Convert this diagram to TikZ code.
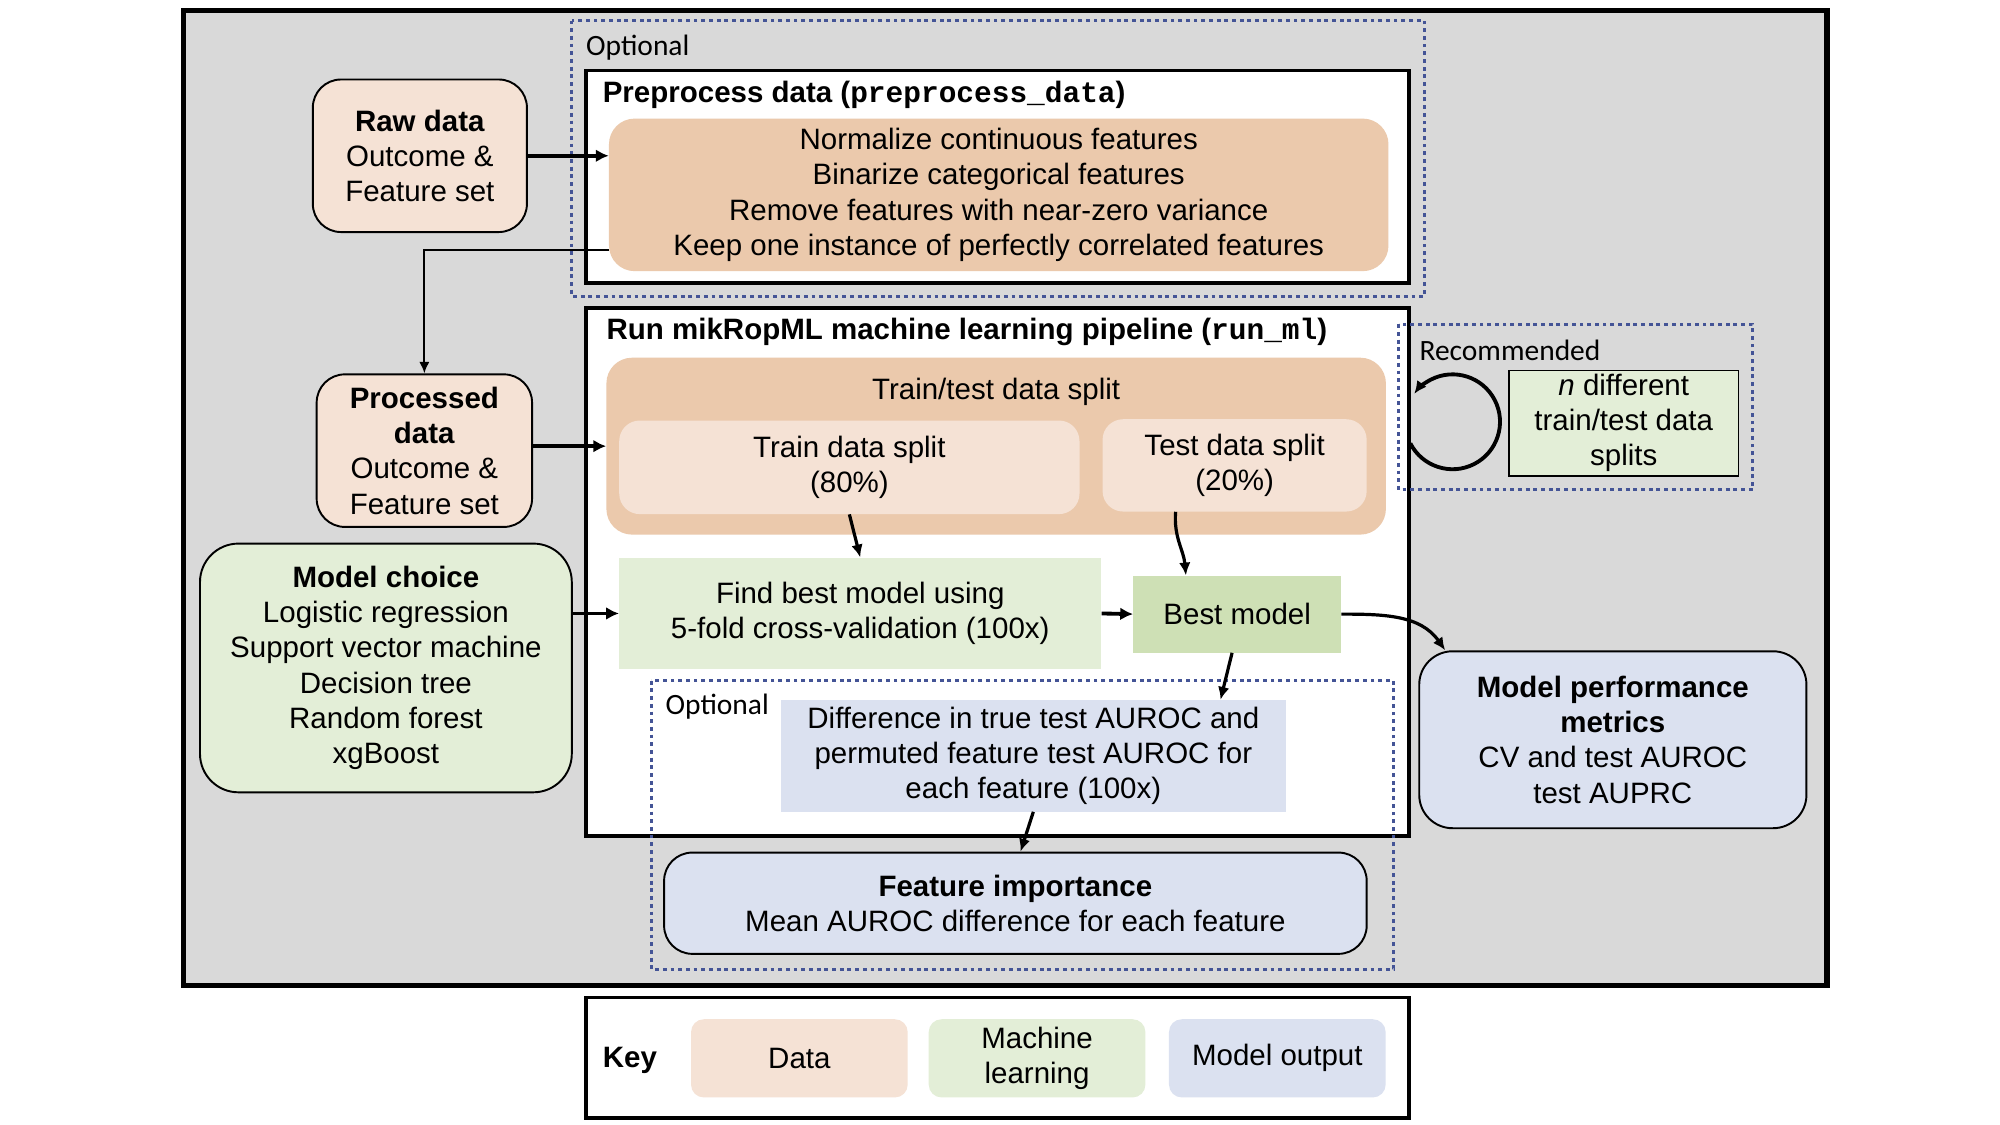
\documentclass[tikz,border=0pt]{standalone}
\usepackage{fontspec}
\setmainfont{Liberation Sans}
\setmonofont{Liberation Mono}
\newfontfamily\calibri{Carlito}
\usepackage{tikz}
\usetikzlibrary{positioning,arrows.meta}
\definecolor{bggray}{RGB}{217,217,217}
\definecolor{dataorange}{RGB}{235,201,172}
\definecolor{datalight}{RGB}{245,226,213}
\definecolor{mllight}{RGB}{227,238,215}
\definecolor{mldark}{RGB}{206,224,181}
\definecolor{outblue}{RGB}{219,225,240}
\definecolor{optblue}{RGB}{68,84,150}

\begin{document}
\begin{tikzpicture}[x=1pt, y=1pt,
    every node/.style={font=\fontsize{23}{27.5}\selectfont, align=center, inner sep=0pt},
    panel/.style={draw, line width=3pt, fill=white},
    optbox/.style={draw=optblue, line width=2.5pt, dash pattern=on 3pt off 3pt},
    optlabel/.style={font=\calibri\fontsize{23}{27}\selectfont, anchor=west},
    heading/.style={font=\bfseries\fontsize{23}{27.5}\selectfont, anchor=west},
    roundbox/.style={draw, line width=1.5pt, rounded corners=22pt},
    plainbox/.style={rounded corners=16pt},
    arr/.style={-{Latex[length=10pt,width=9pt]}, line width=2.5pt},
    bigarr/.style={-{Latex[length=10pt,width=10pt]}, line width=3pt}]
  \useasboundingbox (0,0) rectangle (1560,-877.5);
  \draw[line width=4pt, fill=bggray] (143,-8) rectangle (1425,-769);

  \draw[optbox] (446,-16) rectangle (1111,-231);
  \node[optlabel] (opt1) at (457,-37) {Optional};
  \node[panel, minimum width=642pt, minimum height=166pt] (prep) at (778,-138) {};
  \node[heading] (preptitle) at (470,-74) {Preprocess data (\texttt{preprocess\_data})};
  \node[plainbox, rounded corners=20pt, fill=dataorange, minimum width=608pt, minimum height=119pt] (clean) at (779,-152) {Normalize continuous features\\Binarize categorical features\\Remove features with near-zero variance\\Keep one instance of perfectly correlated features};

  \node[roundbox, fill=datalight, minimum width=167pt, minimum height=119pt] (raw) at (327.5,-121.5) {\textbf{Raw data}\\Outcome \&\\Feature set};
  \node[roundbox, fill=datalight, minimum width=168pt, minimum height=119pt] (proc) at (331,-351.5) {\textbf{Processed}\\\textbf{data}\\Outcome \&\\Feature set};
  \node[roundbox, rounded corners=30pt, fill=mllight, minimum width=290pt, minimum height=194pt] (choice) at (301,-521) {\textbf{Model choice}\\Logistic regression\\Support vector machine\\Decision tree\\Random forest\\xgBoost};

  \node[panel, minimum width=642pt, minimum height=412pt] (pipe) at (778,-446) {};
  \node[heading] (pipetitle) at (473,-259) {Run mikRopML machine learning pipeline (\texttt{run\_ml})};
  \node[plainbox, rounded corners=20pt, fill=dataorange, minimum width=608pt, minimum height=138pt] (split) at (777,-348) {};
  \node (splittitle) at (777,-306) {Train/test data split};
  \node[plainbox, fill=datalight, minimum width=359pt, minimum height=73pt] (train) at (662.5,-364.5) {Train data split\\(80\%)};
  \node[plainbox, fill=datalight, minimum width=206pt, minimum height=72pt] (test) at (963,-363) {Test data split\\(20\%)};
  \node[fill=mllight, minimum width=376pt, minimum height=87pt] (find) at (671,-478.5) {Find best model using\\5-fold cross-validation (100x)};
  \node[fill=mldark, minimum width=162pt, minimum height=60pt] (best) at (965,-479) {Best model};

  \draw[optbox] (508,-531) rectangle (1087,-756);
  \node[optlabel] (opt2) at (519,-551) {Optional};
  \node[fill=outblue, minimum width=394pt, minimum height=87pt] (diff) at (806,-589.5) {Difference in true test AUROC and\\permuted feature test AUROC for\\each feature (100x)};
  \node[roundbox, fill=outblue, minimum width=548pt, minimum height=79pt] (imp) at (792,-704.5) {\textbf{Feature importance}\\Mean AUROC difference for each feature};
  \node[roundbox, rounded corners=26pt, fill=outblue, minimum width=302pt, minimum height=138pt] (perf) at (1258,-577) {\textbf{Model performance}\\\textbf{metrics}\\CV and test AUROC\\test AUPRC};

  \draw[optbox] (1091,-253) rectangle (1367,-382);
  \node[optlabel] (rec) at (1107,-273) {Recommended};
  \node[draw, line width=1.5pt, fill=mllight, minimum width=179pt, minimum height=82pt] (nsplits) at (1266.5,-330) {\textit{n} different\\train/test data\\splits};
  \coordinate (loop) at (1133,-329);

  \node[panel, minimum width=642pt, minimum height=94pt] (key) at (778,-825) {};
  \node[heading] (keytitle) at (470,-827) {Key};
  \node[plainbox, rounded corners=10pt, fill=datalight, minimum width=169pt, minimum height=61pt] (kdata) at (623.5,-825.5) {Data};
  \node[plainbox, rounded corners=10pt, fill=mllight, minimum width=169pt, minimum height=61pt, right=16pt of kdata] (kml) {Machine\\learning};
  \node[plainbox, rounded corners=10pt, fill=outblue, minimum width=169pt, minimum height=61pt, right=18pt of kml] (kout) {Model output};

  \draw[bigarr] (raw.east) -- (raw.east -| clean.west);
  \draw[-{Latex[length=9pt,width=8pt]}, line width=1.5pt] ([yshift=-43pt]clean.west) -| (proc.north);
  \draw[bigarr] (proc.east |- split.west) -- (split.west);
  \draw[bigarr] (choice.east |- find.west) -- (find.west);
  \draw[bigarr] (find.east) -- (best.west);
  \draw[arr] (train.south) -- (find.north);
  \draw[arr] ([xshift=-46pt]test.south) to[out=265,in=95] ([xshift=-40pt]best.north);
  \draw[arr] (best.east) to[out=0,in=125] ([xshift=21pt]perf.north west);
  \draw[arr] ([xshift=-4pt]best.south) -- ([xshift=146pt]diff.north);
  \draw[arr] (diff.south) -- ([xshift=4pt]imp.north);
  \draw[arr, line width=3pt] ([shift={(207:37)}]loop) arc[start angle=207, end angle=504, radius=37];
\end{tikzpicture}
\end{document}
